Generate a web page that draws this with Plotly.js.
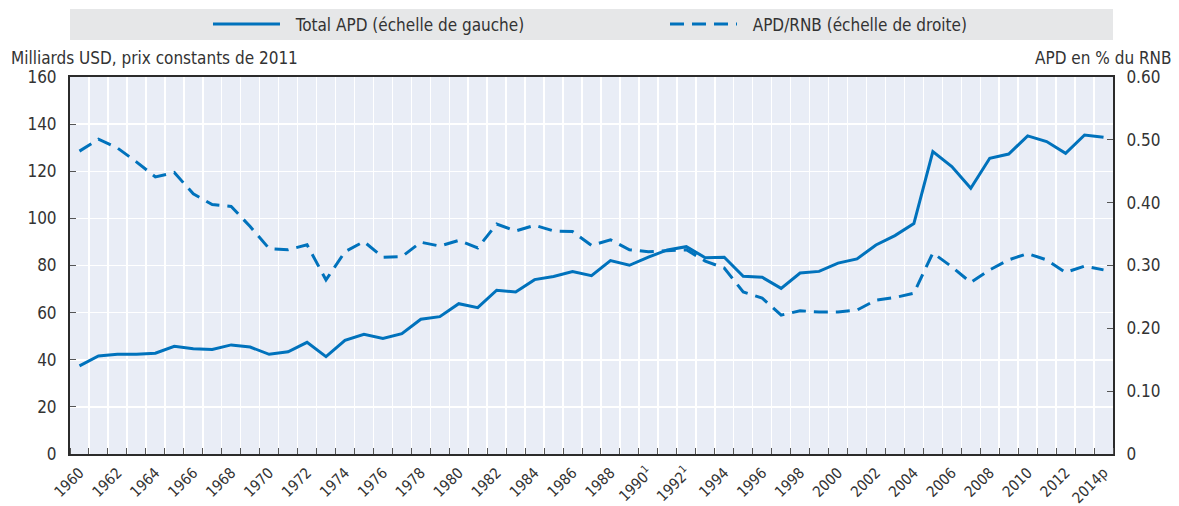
<!DOCTYPE html>
<html>
<head>
<meta charset="utf-8">
<script src="https://cdn.plot.ly/plotly-3.0.1.min.js"></script>
<style>html,body{margin:0;padding:0;background:#fff;}#chart{width:1179px;height:506px;}</style>
</head>
<body>
<div id="chart"></div>
<script>
const years = [1960,1961,1962,1963,1964,1965,1966,1967,1968,1969,1970,1971,1972,1973,1974,1975,1976,1977,1978,1979,1980,1981,1982,1983,1984,1985,1986,1987,1988,1989,1990,1991,1992,1993,1994,1995,1996,1997,1998,1999,2000,2001,2002,2003,2004,2005,2006,2007,2008,2009,2010,2011,2012,2013,2014];
const totalAPD = [37.4,41.6,42.3,42.3,42.8,45.7,44.7,44.4,46.3,45.4,42.3,43.4,47.4,41.3,48.2,50.8,49.0,51.1,57.2,58.3,63.8,62.1,69.5,68.8,74.0,75.3,77.4,75.7,82.1,80.1,83.6,86.6,88.0,83.3,83.5,75.4,75.0,70.3,76.8,77.5,81.0,82.8,88.7,92.7,97.8,128.3,122.0,112.8,125.5,127.3,135.0,132.6,127.6,135.4,134.4];
const apdRNB = [0.482,0.501,0.487,0.465,0.441,0.448,0.414,0.397,0.394,0.362,0.327,0.325,0.333,0.277,0.322,0.338,0.313,0.314,0.337,0.331,0.340,0.328,0.366,0.355,0.364,0.355,0.354,0.332,0.341,0.325,0.322,0.324,0.325,0.307,0.296,0.258,0.248,0.221,0.228,0.226,0.226,0.229,0.245,0.249,0.256,0.320,0.298,0.273,0.293,0.309,0.319,0.309,0.289,0.299,0.293];
const xTickVals = [1960,1962,1964,1966,1968,1970,1972,1974,1976,1978,1980,1982,1984,1986,1988,1990,1992,1994,1996,1998,2000,2002,2004,2006,2008,2010,2012,2014];
const xTickText = ['1960','1962','1964','1966','1968','1970','1972','1974','1976','1978','1980','1982','1984','1986','1988','1990<sup>1</sup>','1992<sup>1</sup>','1994','1996','1998','2000','2002','2004','2006','2008','2010','2012','2014p'];
const y2TickVals = [0,0.1,0.2,0.3,0.4,0.5,0.6];
const y2TickText = ['0','0.10','0.20','0.30','0.40','0.50','0.60'];
const seriesNames = ['Total APD (échelle de gauche)','APD/RNB (échelle de droite)'];

const FONT = 'Liberation Sans Narrow, Arial Narrow, DejaVu Sans Condensed, sans-serif';
const BLUE = '#0072bc';
const AXIS = '#2b2b2b';
const TXT = '#333333';
const PAD = '\u2002\u2009';

const traces = [
  {x: years, y: totalAPD, name: PAD + seriesNames[0], type: 'scatter', mode: 'lines', line: {color: BLUE, width: 3}, yaxis: 'y'},
  {x: years, y: apdRNB, name: PAD + seriesNames[1], type: 'scatter', mode: 'lines', line: {color: BLUE, width: 3, dash: '14px,8px'}, yaxis: 'y2'}
];

const layout = {
  width: 1179, height: 506,
  margin: {l: 70, r: 66, t: 77, b: 52, pad: 0, autoexpand: false},
  paper_bgcolor: '#ffffff',
  plot_bgcolor: '#e9edf6',
  font: {family: FONT, size: 17, color: TXT},
  showlegend: true,
  legend: {orientation: 'h', x: 0.1323, xanchor: 'left', y: (454 - 24.5) / 377, yanchor: 'middle', bgcolor: 'rgba(0,0,0,0)', itemwidth: 67, entrywidth: 375, entrywidthmode: 'pixels', font: {family: FONT, size: 17, color: TXT}, itemclick: false},
  xaxis: {
    range: [1959.5, 2014.5], tickmode: 'array', tickvals: xTickVals, ticktext: xTickText, tickangle: -45,
    showgrid: false, zeroline: false, ticks: '', showline: true, linecolor: AXIS, linewidth: 2, mirror: true,
    ticklabelstandoff: 2,
    tickfont: {family: FONT, size: 15, color: TXT},
    minor: {tick0: 1959.5, dtick: 1, ticks: 'inside', ticklen: 6, tickcolor: '#555555', tickwidth: 1, showgrid: true, gridcolor: '#ffffff', gridwidth: 1.5}
  },
  yaxis: {
    range: [0, 160], dtick: 20, tick0: 0, showgrid: true, gridcolor: '#ffffff', gridwidth: 1.5, zeroline: false,
    ticks: 'inside', ticklen: 6, tickcolor: '#555555', showline: true, linecolor: AXIS, linewidth: 2,
    ticklabelstandoff: 8, tickfont: {family: FONT, size: 17, color: TXT}
  },
  yaxis2: {
    overlaying: 'y', side: 'right', range: [0, 0.6], tickmode: 'array', tickvals: y2TickVals, ticktext: y2TickText,
    showgrid: false, zeroline: false, ticks: 'inside', ticklen: 6, tickcolor: '#555555', showline: true, linecolor: AXIS, linewidth: 2,
    ticklabelstandoff: 8, tickfont: {family: FONT, size: 17, color: TXT}
  },
  shapes: [
    {type: 'rect', xref: 'paper', yref: 'paper', x0: 0, x1: 1, y0: (454 - 40) / 377, y1: (454 - 9) / 377, fillcolor: '#e6e7e8', line: {width: 0}, layer: 'below'}
  ],
  annotations: [
    {xref: 'paper', yref: 'paper', x: -61 / 1043, y: (454 - 58) / 377, xanchor: 'left', yanchor: 'middle', text: 'Milliards USD, prix constants de 2011', showarrow: false, font: {family: FONT, size: 17, color: TXT}},
    {xref: 'paper', yref: 'paper', x: 1 + 61 / 1043, y: (454 - 58) / 377, xanchor: 'right', yanchor: 'middle', text: 'APD en % du RNB', showarrow: false, font: {family: FONT, size: 17, color: TXT}}
  ]
};

Plotly.newPlot('chart', traces, layout, {displayModeBar: false, staticPlot: true});
</script>
</body>
</html>
